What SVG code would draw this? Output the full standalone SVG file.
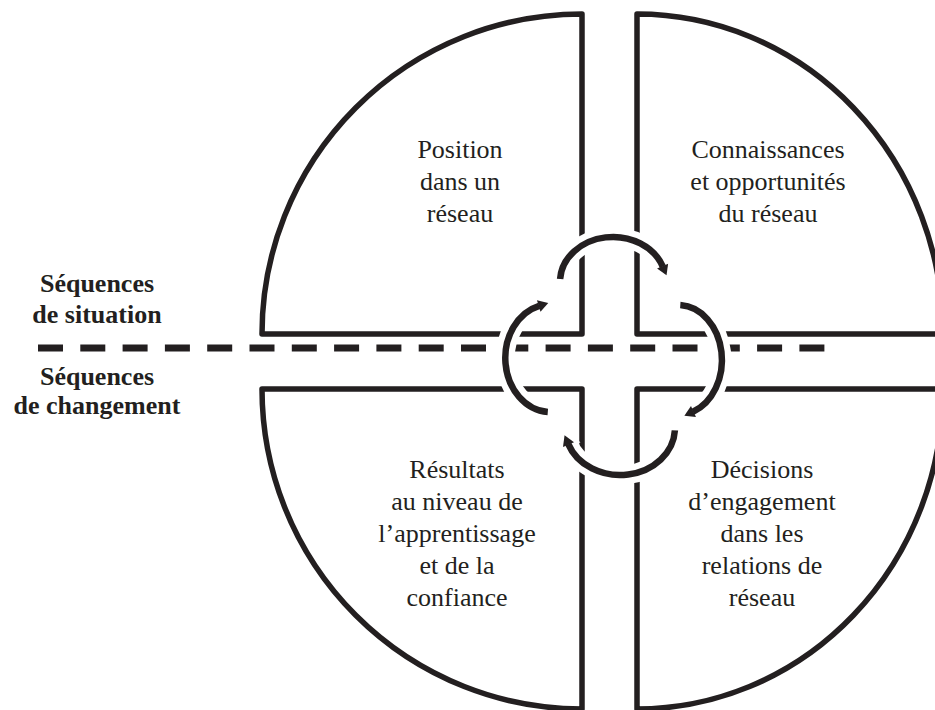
<svg xmlns="http://www.w3.org/2000/svg" width="935" height="710" viewBox="0 0 935 710">
<style>
.q{fill:none;stroke:#231f20;stroke-width:5.5;stroke-linejoin:round}
.t{font-family:"Liberation Serif","Times New Roman",serif;font-size:26px;fill:#231f20;text-anchor:middle}
.b{font-weight:bold}
.dash{stroke:#231f20;stroke-width:7;stroke-dasharray:25 17.3;fill:none}
.halo{fill:none;stroke:#ffffff;stroke-width:19;marker-end:url(#ahw)}
.arc{fill:none;stroke:#231f20;stroke-width:6.5;marker-end:url(#ah)}
</style>
<defs>
<marker id="ah" markerUnits="userSpaceOnUse" markerWidth="30" markerHeight="30" refX="0" refY="0" orient="auto" style="overflow:visible">
<path d="M-0.5,-6 L9.5,0 L-0.5,6 Z" fill="#231f20"/>
</marker>
<marker id="ahw" markerUnits="userSpaceOnUse" markerWidth="30" markerHeight="30" refX="0" refY="0" orient="auto" style="overflow:visible">
<path d="M-3,-12 L15,0 L-3,12 Z" fill="#ffffff"/>
</marker>
</defs>
<rect width="935" height="710" fill="#ffffff"/>

<g id="q-position">
<path class="q" d="M582,14 L582,334 L262,334 A320,320 0 0 1 582,14 Z"/>
<text class="t" x="460" y="158">Position</text>
<text class="t" x="460" y="190">dans un</text>
<text class="t" x="460" y="222">réseau</text>
</g>

<g id="q-connaissances">
<path class="q" d="M637,14 L637,334 L943,334 A306,320 0 0 0 637,14 Z"/>
<text class="t" x="768" y="158">Connaissances</text>
<text class="t" x="768" y="190">et opportunités</text>
<text class="t" x="768" y="222">du réseau</text>
</g>

<g id="q-resultats">
<path class="q" d="M582,709 L582,389 L262,389 A320,320 0 0 0 582,709 Z"/>
<text class="t" x="457" y="478">Résultats</text>
<text class="t" x="457" y="510">au niveau de</text>
<text class="t" x="457" y="542">l’apprentissage</text>
<text class="t" x="457" y="574">et de la</text>
<text class="t" x="457" y="606">confiance</text>
</g>

<g id="q-decisions">
<path class="q" d="M637,709 L637,389 L943,389 A306,320 0 0 1 637,709 Z"/>
<text class="t" x="762" y="478">Décisions</text>
<text class="t" x="762" y="510">d’engagement</text>
<text class="t" x="762" y="542">dans les</text>
<text class="t" x="762" y="574">relations de</text>
<text class="t" x="762" y="606">réseau</text>
</g>

<g id="divider">
<line class="dash" x1="38" y1="348" x2="824.4" y2="348"/>
</g>

<g id="label-situation">
<text class="t b" x="97" y="292">Séquences</text>
<text class="t b" x="97" y="323">de situation</text>
</g>

<g id="label-changement">
<text class="t b" x="97" y="385">Séquences</text>
<text class="t b" x="97" y="414">de changement</text>
</g>

<g id="connectors">
<path class="halo" d="M560.1,278.9 A53,45 0 0 1 662.8,266.6"/>
<path class="halo" d="M680.3,305.1 A44,55 0 0 1 693.0,411.7"/>
<path class="halo" d="M674.9,430.4 A55,47 0 0 1 568.3,444.1"/>
<path class="halo" d="M547.8,411.9 A45.5,54 0 0 1 539.2,305.8"/>
<path class="arc" d="M560.1,278.9 A53,45 0 0 1 662.8,266.6"/>
<path class="arc" d="M680.3,305.1 A44,55 0 0 1 693.0,411.7"/>
<path class="arc" d="M674.9,430.4 A55,47 0 0 1 568.3,444.1"/>
<path class="arc" d="M547.8,411.9 A45.5,54 0 0 1 539.2,305.8"/>
</g>
</svg>
